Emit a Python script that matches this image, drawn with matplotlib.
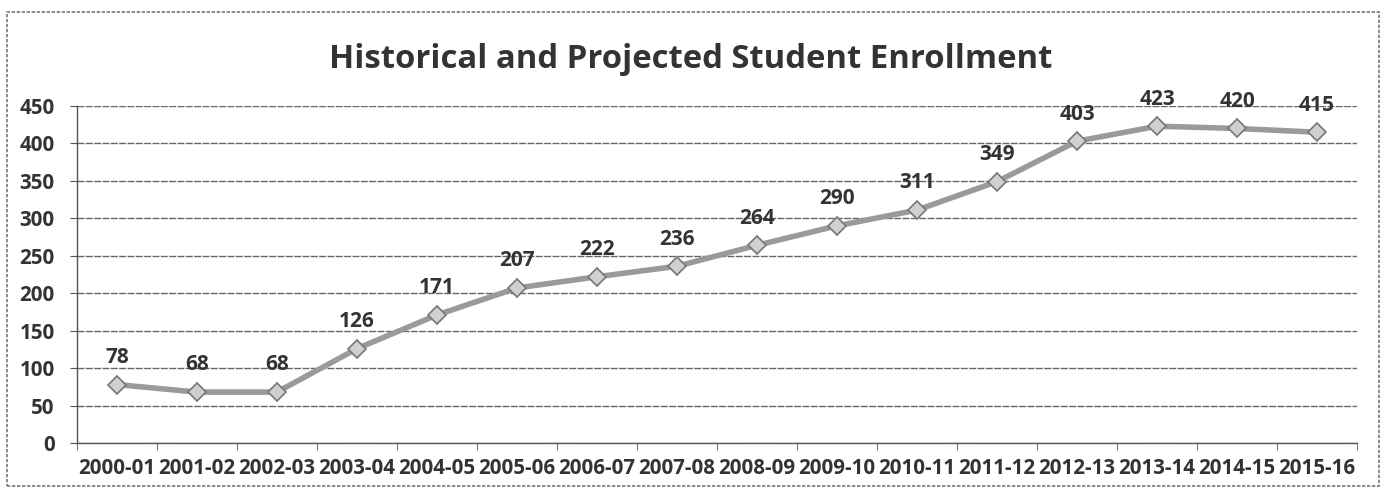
import matplotlib.pyplot as plt
from matplotlib.patches import Rectangle

years = ['2000-01', '2001-02', '2002-03', '2003-04', '2004-05', '2005-06',
         '2006-07', '2007-08', '2008-09', '2009-10', '2010-11', '2011-12',
         '2012-13', '2013-14', '2014-15', '2015-16']
enrollment = [78, 68, 68, 126, 171, 207, 222, 236, 264, 290, 311, 349,
              403, 423, 420, 415]
yticks = [0, 50, 100, 150, 200, 250, 300, 350, 400, 450]

plt.rcParams['font.family'] = ['Open Sans', 'DejaVu Sans']
txt = '#333333'

fig = plt.figure(figsize=(13.82, 4.93), dpi=100)
ax = fig.add_axes([77 / 1382, 1 - 443 / 493, 1280 / 1382, 337 / 493])

x = list(range(len(years)))
ax.plot(x, enrollment, color='#9a9a9a', linewidth=4, marker='D',
        markersize=9, markerfacecolor='#d0d0d0', markeredgecolor='#777777',
        markeredgewidth=1.2, zorder=3)

for i, v in enumerate(enrollment):
    ax.annotate(str(v), (i, v), xytext=(0, 12), textcoords='offset points',
                ha='center', va='bottom', fontsize=15, fontweight='bold',
                color=txt)

ax.set_xlim(-0.5, len(years) - 0.5)
ax.set_ylim(0, 450)
ax.set_xticks(x)
ax.set_xticklabels(years, fontsize=14.8, fontweight='bold', color=txt)
ax.set_yticks(yticks)
ax.set_yticklabels([str(t) for t in yticks], fontsize=14.8, fontweight='bold',
                   color=txt)
ax.set_xticks([i - 0.5 for i in range(len(years) + 1)], minor=True)
ax.tick_params(axis='x', which='major', length=0, pad=11)
ax.tick_params(axis='x', which='minor', length=5, color='#555555')
ax.tick_params(axis='y', length=5, color='#555555', pad=11)

ax.yaxis.grid(True, color='#666666', linewidth=1.0, linestyle=(0, (5, 1)))
ax.set_axisbelow(True)
for side in ['top', 'right']:
    ax.spines[side].set_visible(False)
for side in ['left', 'bottom']:
    ax.spines[side].set_color('#555555')
    ax.spines[side].set_linewidth(1.0)

fig.text(0.5, 1 - 60 / 493, 'Historical and Projected Student Enrollment',
         ha='center', va='center', fontsize=23.7, fontweight='bold', color=txt)

# dotted frame round the whole chart
fig.patches.append(Rectangle((7 / 1382, 1 - 486 / 493), 1372 / 1382,
                             474 / 493, transform=fig.transFigure,
                             fill=False, edgecolor='#777777', linewidth=1.2,
                             linestyle=(0, (2, 1))))

fig.savefig('out.png', dpi=100)
